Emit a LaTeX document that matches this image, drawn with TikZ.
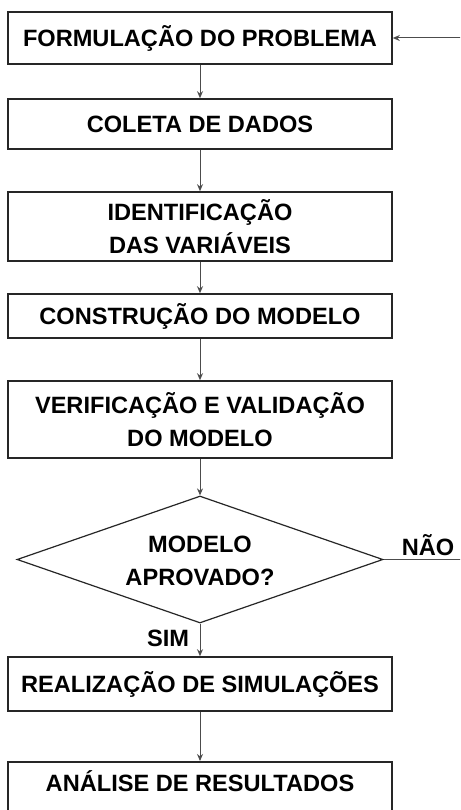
\documentclass[tikz,border=0pt]{standalone}
\usepackage{fontspec}
\setmainfont{Liberation Sans}
\usetikzlibrary{shapes.geometric,arrows.meta}
\begin{document}
\begin{tikzpicture}[x=1pt,y=-1pt,
  every node/.style={font=\fontsize{23.6}{33}\selectfont\bfseries, text=black},
  box/.style={draw=black!85, line width=1.6pt, rectangle, minimum width=384pt, inner sep=0pt, align=center},
  dec/.style={draw=black!85, line width=1.2pt, diamond, minimum width=366pt, minimum height=127pt, inner sep=0pt, align=center},
  arr/.style={draw=black!70, line width=1pt, -{Stealth[length=7pt,width=6pt]}},
  ln/.style={draw=black!70, line width=1.1pt},
  lbl/.style={inner sep=0pt, align=center}]
\useasboundingbox (0,0) rectangle (460,810);
\clip (0,0) rectangle (460,810);
\fill[white] (0,0) rectangle (460,810);
\node[box, minimum height=52pt] (b1) at (200,38) {FORMULAÇÃO DO PROBLEMA};
\node[box, minimum height=50pt] (b2) at (200,124) {COLETA DE DADOS};
\node[box, minimum height=69pt] (b3) at (200,226.5) {IDENTIFICAÇÃO\\DAS VARIÁVEIS};
\node[box, minimum height=44pt] (b4) at (200,316) {CONSTRUÇÃO DO MODELO};
\node[box, minimum height=77pt] (b5) at (200,419.5) {VERIFICAÇÃO E VALIDAÇÃO\\DO MODELO};
\node[dec] (d) at (200,559.5) {};
\node[lbl] (dt) at (200,561) {MODELO\\APROVADO?};
\node[box, minimum height=54pt] (b6) at (200,684) {REALIZAÇÃO DE SIMULAÇÕES};
\node[box, anchor=north, text height=29.5pt, text depth=30pt, inner ysep=0pt] (b7) at (200,761) {ANÁLISE DE RESULTADOS};
\node[lbl] (nao) at (428,545) {NÃO};
\node[lbl] (sim) at (168,638) {SIM};
\coordinate (r1) at (461,559.5);
\coordinate (r2) at (461,38);
\draw[arr] (b1) -- (b2);
\draw[arr] (b2) -- (b3);
\draw[arr] (b3) -- (b4);
\draw[arr] (b4) -- (b5);
\draw[arr] (b5) -- (d.north);
\draw[arr] (d.south) -- (b6);
\draw[arr] (b6) -- (b7);
\draw[ln] (d.east) -- (r1);
\draw[arr] (r2) -- (b1.east);
\end{tikzpicture}
\end{document}
